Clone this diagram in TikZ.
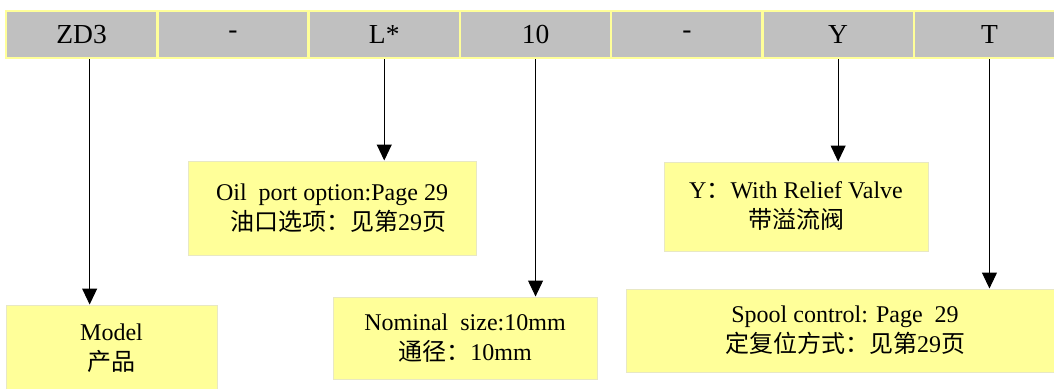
\documentclass[tikz,border=0pt]{standalone}
\usepackage{fontspec}
\setmainfont{Liberation Serif}
\newfontfamily\cjk{Noto Sans CJK SC}
\usepackage{tikz}
\usetikzlibrary{positioning,arrows.meta}
\definecolor{bargray}{HTML}{C0C0C0}
\definecolor{barline}{HTML}{FFFF99}
\definecolor{notefill}{HTML}{FFFF99}
\definecolor{noteline}{HTML}{E8E8C4}

\begin{document}
\begin{tikzpicture}[
  x=1pt, y=-1pt,
  cell/.style={draw=barline, line width=2.5pt, fill=bargray,
               minimum width=151.3pt, minimum height=47pt, inner sep=0pt,
               font=\fontsize{27.5}{30}\selectfont},
  note/.style={draw=noteline, line width=1pt, fill=notefill, align=center,
               inner sep=0pt, font=\fontsize{24}{30}\selectfont},
  pointer/.style={-{Triangle[length=16pt, width=15pt]}, line width=1pt},
]
\clip (0,0) rectangle (1054,388);

% Top: code bar
\node[cell] (zd3)   at (81.65, 34.5)  {ZD3};
\node[cell] (dash1) at (232.95, 34.5) {-};
\node[cell] (port)  at (384.25, 34.5) {L*};
\node[cell] (size)  at (535.55, 34.5) {10};
\node[cell] (dash2) at (686.85, 34.5) {-};
\node[cell] (valve) at (838.15, 34.5) {Y};
\node[cell] (ctrl)  at (989.45, 34.5) {T};

% Explanation boxes
\node[note, minimum width=211pt, minimum height=86pt] (model) at (111.5, 348)
  {Model\\{\cjk 产品}};
\node[note, minimum width=288pt, minimum height=94pt] (oil) at (332, 208)
  {Oil\ \ port option:Page 29\\\ \ {\cjk 油口选项：见第}29{\cjk 页}};
\node[note, minimum width=264pt, minimum height=82pt] (nominal) at (465, 338)
  {Nominal\ \ size:10mm\\{\cjk 通径：}10mm};
\node[note, minimum width=264pt, minimum height=89pt] (relief) at (796, 206.5)
  {Y{\cjk ：}With Relief Valve\\{\cjk 带溢流阀}};
\node[note, minimum width=438pt, minimum height=83pt] (spool) at (845, 330.5)
  {Spool control: Page\ \ 29\\{\cjk 定复位方式：见第}29{\cjk 页}};

% Arrows
\coordinate (zd3foot) at ([xshift=8pt]zd3.south);
\draw[pointer] (zd3foot) -- (zd3foot |- model.north);
\draw[pointer] (port.south) -- (port.south |- oil.north);
\draw[pointer] (size.south) -- (size.south |- nominal.north);
\draw[pointer] (valve.south) -- (valve.south |- relief.north);
\draw[pointer] (ctrl.south) -- (ctrl.south |- spool.north);

\end{tikzpicture}
\end{document}
